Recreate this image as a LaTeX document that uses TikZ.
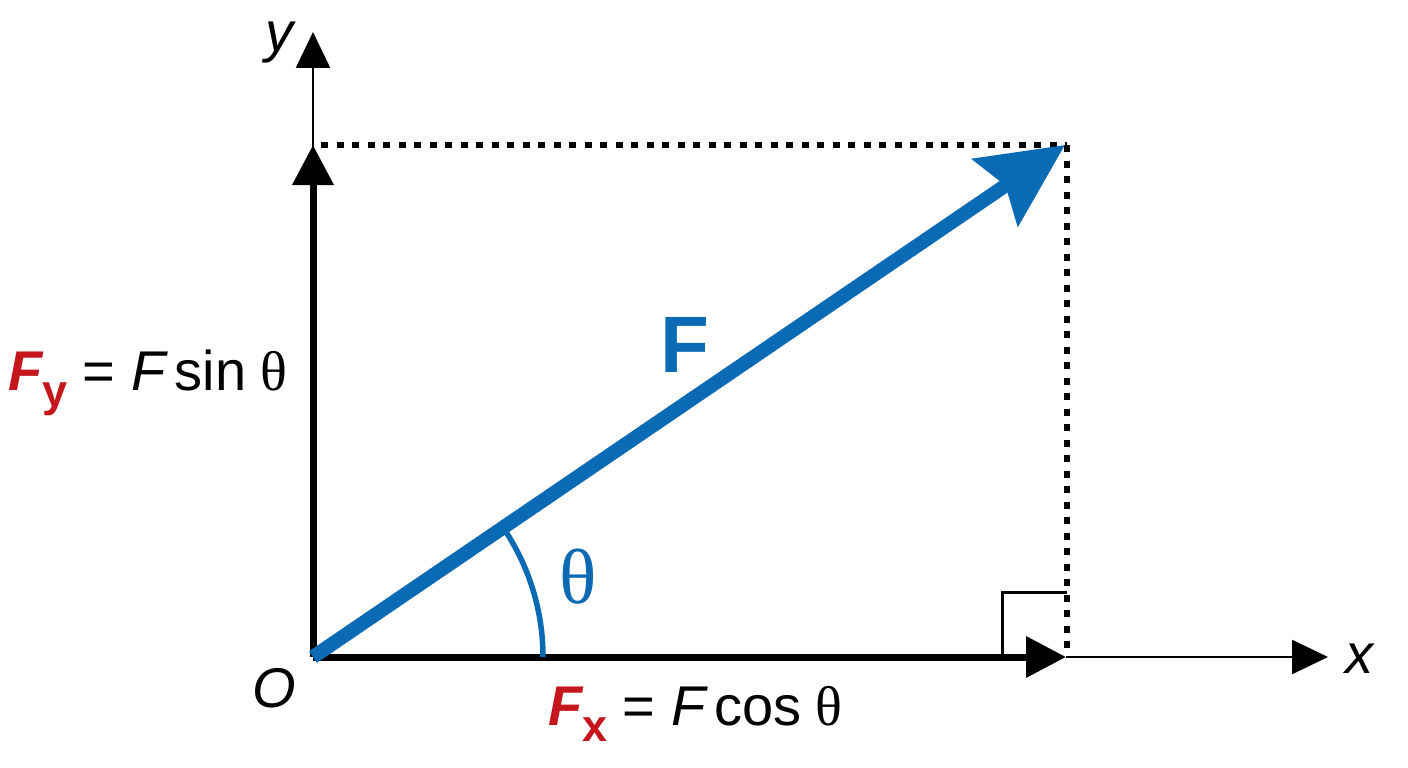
\documentclass[tikz,border=0pt]{standalone}
\usepackage{fontspec}
\setmainfont{Liberation Sans}
\newfontfamily\serifth{Liberation Serif}
\usetikzlibrary{arrows.meta}
\definecolor{fblue}{HTML}{0A6AB4}
\definecolor{fred}{HTML}{C4161C}
\tikzset{
  thinaxis/.style={line width=2.5pt,-{Triangle[length=36pt,width=34pt]}},
  compvec/.style={line width=7pt,-{Triangle[length=40pt,width=40pt]}},
  forcevec/.style={line width=14pt,fblue,-{Stealth[length=84pt,width=80pt,inset=12pt]}},
  dotline/.style={line width=6pt,dash pattern=on 7pt off 8.5pt},
  lbl/.style={inner sep=0pt,font=\fontsize{56}{60}\selectfont},
}
\begin{document}
\begin{tikzpicture}[x=1pt,y=-1pt]
\path[use as bounding box,fill=white] (0,0) rectangle (1408,768);
\coordinate (O) at (313,657);
\coordinate (Ftip) at (1065,145);
\coordinate (Xtip) at (1066,657);
\coordinate (Ytip) at (313,145);
\coordinate (xend) at (1328,657);
\coordinate (yend) at (313,32);
\coordinate (corner) at (1067,145);
\coordinate (hstart) at (321,145);
\coordinate (vend) at (1067,652);
\coordinate (rb) at (1002,657);
\coordinate (rt) at (1002,592);
\coordinate (rr) at (1067,592);
% axes
\draw[thinaxis] (O) -- (yend);
\draw[thinaxis] (Xtip) -- (xend);
% dotted projections
\draw[dotline] (hstart) -- (corner);
\draw[dotline] (corner) -- (vend);
% right angle mark
\draw[line width=3pt] (rb) -- (rt) -- (rr);
% components
\draw[compvec] (O) -- (Ytip);
\draw[compvec] (O) -- (Xtip);
% angle arc
\draw[fblue,line width=5.5pt] (O) ++(230,0) arc[start angle=0,end angle=34.25,radius=230pt];
% force
\draw[forcevec] (O) -- (Ftip);
% labels
\node[lbl,anchor=base] (ylab) at (279,52) {\itshape y};
\node[lbl,anchor=base] (xlab) at (1359,673) {\itshape x};
\node[lbl,anchor=base] (Olab) at (274,707) {\itshape O};
\node[inner sep=0pt,anchor=base west,text=fblue,font=\fontsize{80}{84}\selectfont\bfseries] (Flab) at (660,372) {F};
\node[inner sep=0pt,text=fblue,font=\fontsize{78}{80}\selectfont\serifth] (thlab) at (578,577) {θ};
\node[lbl,anchor=base west] (Fy) at (8,390) {{\color{fred}\bfseries\itshape F}\raisebox{-16pt}{\fontsize{45}{48}\selectfont\color{fred}\bfseries y} = {\itshape F}\,sin\hspace{14pt}{\serifth θ}};
\node[lbl,anchor=base west] (Fx) at (548,725) {{\color{fred}\bfseries\itshape F}\raisebox{-16pt}{\fontsize{45}{48}\selectfont\color{fred}\bfseries x} = {\itshape F}\,cos\hspace{14pt}{\serifth θ}};
\end{tikzpicture}
\end{document}
